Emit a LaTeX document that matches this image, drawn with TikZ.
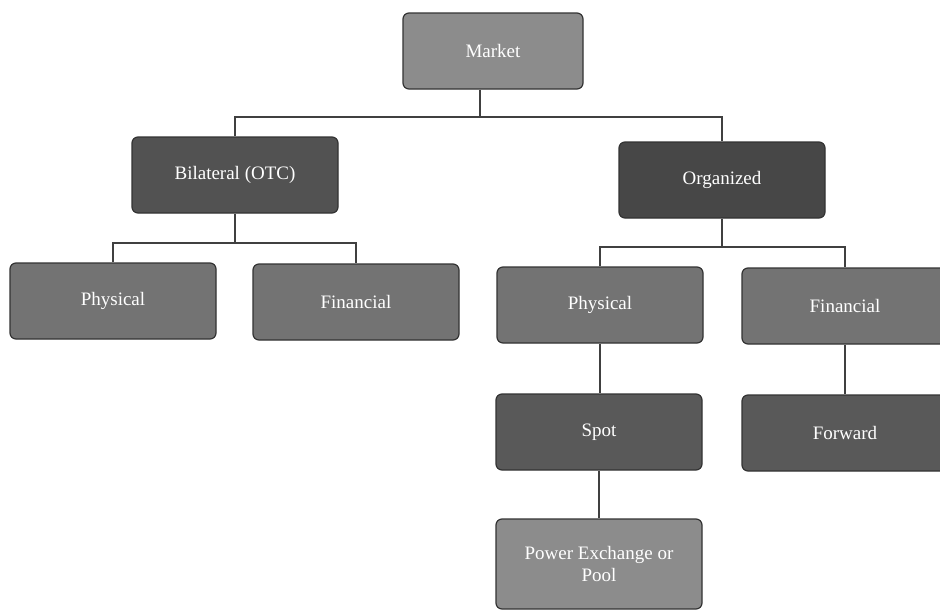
\documentclass[tikz,border=0pt]{standalone}
\usepackage{fontspec}
\setmainfont{Liberation Serif}
\begin{document}
\begin{tikzpicture}[x=1pt,y=-1pt,
  box/.style={draw=black!80,line width=1.2pt,rounded corners=6pt,minimum width=206pt,minimum height=76pt,
    text=white,font=\fontsize{19}{22}\selectfont,align=center,inner sep=2pt},
  light/.style={box,fill=black!45},
  mid/.style={box,fill=black!55},
  dark/.style={box,fill=black!68},
  link/.style={draw=black!75,line width=1.6pt}]
\useasboundingbox (0,0) rectangle (940,613);
\node[light,minimum width=180pt] (market) at (493,51) {Market};
\node[dark] (otc) at (235,175) {Bilateral (OTC)};
\node[dark,fill=black!72] (org) at (722,180) {Organized};
\node[mid] (phys1) at (113,301) {Physical};
\node[mid] (fin1) at (356,302) {Financial};
\node[mid] (phys2) at (600,305) {Physical};
\node[mid] (fin2) at (845,306) {Financial};
\node[dark,fill=black!65] (spot) at (599,432) {Spot};
\node[dark,fill=black!65] (fwd) at (845,433) {Forward};
\node[light,minimum height=90pt] (pool) at (599,564) {Power Exchange or\\Pool};
% connectors
\coordinate (mj) at (480,117);
\draw[link] (market.south -| mj) -- (mj);
\draw[link] (otc.north) -- (otc.north |- mj) -- (org.north |- mj) -- (org.north);
\coordinate (oj) at (235,243);
\draw[link] (otc.south) -- (oj);
\draw[link] (phys1.north) -- (phys1.north |- oj) -- (fin1.north |- oj) -- (fin1.north);
\coordinate (rj) at (722,247);
\draw[link] (org.south) -- (rj);
\draw[link] (phys2.north) -- (phys2.north |- rj) -- (fin2.north |- rj) -- (fin2.north);
\draw[link] (phys2.south) -- (spot.north -| phys2.south);
\draw[link] (fin2.south) -- (fwd.north -| fin2.south);
\draw[link] (spot.south) -- (pool.north);
\end{tikzpicture}
\end{document}
